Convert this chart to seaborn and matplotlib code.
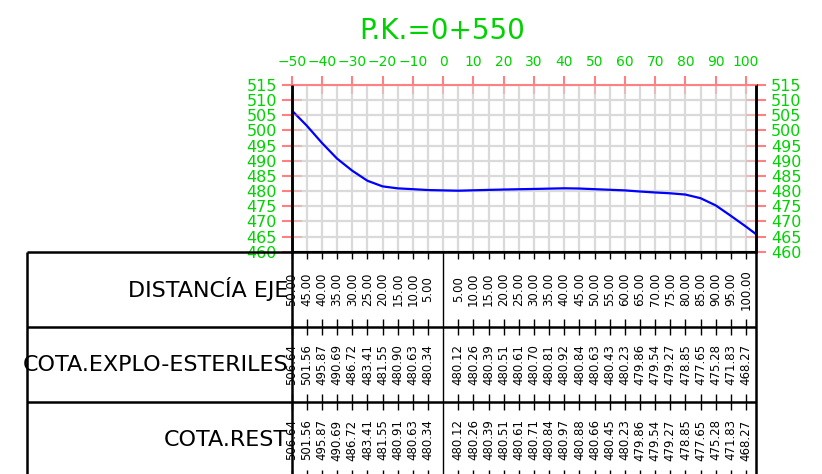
import numpy as np
import pandas as pd
import matplotlib
matplotlib.use("Agg")
import matplotlib.pyplot as plt
import matplotlib.transforms as mtransforms
import seaborn as sns

# ---------------- data ----------------
title = "P.K.=0+550"
row_labels = ["DISTANCÍA EJE", "COTA.EXPLO-ESTERILES", "COTA.REST"]
dist_left = [-50, -45, -40, -35, -30, -25, -20, -15, -10, -5]
dist_right = [5, 10, 15, 20, 25, 30, 35, 40, 45, 50, 55, 60, 65, 70, 75, 80, 85, 90, 95, 100]
explo_left = [506.64, 501.56, 495.87, 490.69, 486.72, 483.41, 481.55, 480.90, 480.63, 480.34]
explo_right = [480.12, 480.26, 480.39, 480.51, 480.61, 480.70, 480.81, 480.92, 480.84, 480.63,
               480.43, 480.23, 479.86, 479.54, 479.27, 478.85, 477.65, 475.28, 471.83, 468.27]
rest_left = [506.64, 501.56, 495.87, 490.69, 486.72, 483.41, 481.55, 480.91, 480.63, 480.34]
rest_right = [480.12, 480.26, 480.39, 480.51, 480.61, 480.71, 480.84, 480.97, 480.88, 480.66,
              480.45, 480.23, 479.86, 479.54, 479.27, 478.85, 477.65, 475.28, 471.83, 468.27]
terrain_end_x = [103.3]
terrain_end_z = [465.8]
x_ticks_top = list(range(-50, 101, 10))
x_grid = list(range(-50, 101, 5))
y_ticks = list(range(460, 516, 5))

# ---------------- style ----------------
sns.set_style("white")
plt.rcParams["font.family"] = ["DejaVu Sans"]
GREEN = "#00d200"
RED = "#ff8080"
GRID = "#dadada"

W, H = 822, 474
fig = plt.figure(figsize=(W / 100, H / 100), dpi=100)

# plot area in pixels
L, R, T, B = 291.7, 756.0, 85.0, 251.7
ax = fig.add_axes([L / W, 1 - B / H, (R - L) / W, (B - T) / H])
ax.set_xlim(-50, 103.3)
ax.set_ylim(460, 515)

df = pd.DataFrame({
    "dist": dist_left + dist_right + terrain_end_x,
    "cota": explo_left + explo_right + terrain_end_z,
})
sns.lineplot(data=df, x="dist", y="cota", ax=ax, color="#0000ff", linewidth=1.6, zorder=5)
ax.set_xlabel("")
ax.set_ylabel("")

# grid
ax.set_xticks(x_grid, minor=True)
ax.set_xticks(x_ticks_top)
ax.set_xticklabels([str(v).replace("-", "\u2212") for v in x_ticks_top])
ax.set_yticks(y_ticks)
ax.set_yticklabels([str(v) for v in y_ticks])
ax.grid(which="both", color=GRID, linewidth=1.6)
ax.set_axisbelow(True)

ax.xaxis.tick_top()
ax.tick_params(axis="x", which="major", top=True, bottom=False, labeltop=True, labelbottom=False,
               direction="out", length=6.5, width=1.5, color=RED, labelcolor=GREEN,
               labelsize=10, pad=5)
ax.tick_params(axis="x", which="minor", length=0)
ax.tick_params(axis="y", left=True, right=True, labelleft=True, labelright=True,
               direction="out", length=7.2, width=1.5, color=RED, labelcolor=GREEN,
               labelsize=11.5, pad=3.5)
for lab in ax.get_yticklabels():
    lab.set_fontsize(11.5)

ax.spines["top"].set_color(RED)
ax.spines["top"].set_linewidth(1.5)
ax.spines["bottom"].set_color("black")
ax.spines["bottom"].set_linewidth(1.5)
for s in ("left", "right"):
    ax.spines[s].set_color("black")
    ax.spines[s].set_linewidth(1.8)

# ---------------- overlay (pixel coordinates) ----------------
ov = fig.add_axes([0, 0, 1, 1])
ov.set_xlim(0, W)
ov.set_ylim(H, 0)
ov.axis("off")
ov.patch.set_visible(False)

x_data_y_px = mtransforms.blended_transform_factory(ax.transData, ov.transData)
x_axes_y_px = mtransforms.blended_transform_factory(ax.transAxes, ov.transData)
x_px_y_data = mtransforms.blended_transform_factory(ov.transData, ax.transData)

# faint inner parts of the red ticks
ov.vlines(x_ticks_top, T, T + 9, transform=x_data_y_px, color=RED, alpha=0.35, lw=1.5)
ov.hlines(y_ticks[1:-1], L, L + 10, transform=x_px_y_data, color=RED, alpha=0.35, lw=1.5)
ov.hlines(y_ticks[1:-1], R - 10, R, transform=x_px_y_data, color=RED, alpha=0.35, lw=1.5)

# title
ov.text(442.5, 31, title, ha="center", va="center", fontsize=20, color=GREEN)

# table
TL = 27
row_edges = [B, 327.0, 402.3, 477.7]
ov.hlines(row_edges, TL, R, color="black", lw=1.8)
ov.vlines([TL], B, H, color="black", lw=1.8)
ov.vlines([0, 1], T, H, transform=x_axes_y_px, color="black", lw=1.8)
ov.vlines([0], B, H, transform=x_data_y_px, color="black", lw=1.0)

cols = dist_left + dist_right
ov.vlines(cols, B, B + 7.5, transform=x_data_y_px, color="black", lw=1.0)
for e in row_edges[1:3]:
    ov.vlines(cols, e - 8, e + 8, transform=x_data_y_px, color="black", lw=1.0)
ov.vlines(cols, row_edges[3] - 8, row_edges[3], transform=x_data_y_px, color="black", lw=1.0)

row_centers = [(row_edges[i] + row_edges[i + 1]) / 2 for i in range(3)]
rows_vals = [
    [f"{abs(v):.2f}" for v in cols],
    [f"{v:.2f}" for v in explo_left + explo_right],
    [f"{v:.2f}" for v in rest_left + rest_right],
]
for lab, yc, vals in zip(row_labels, row_centers, rows_vals):
    ov.text(288, yc, lab, ha="right", va="center", fontsize=16, color="black")
    for xv, s in zip(cols, vals):
        ov.text(xv, yc, s, transform=x_data_y_px, rotation=90, ha="center", va="center",
                fontsize=8.5, color="black")

fig.savefig("out.png", dpi=100)
